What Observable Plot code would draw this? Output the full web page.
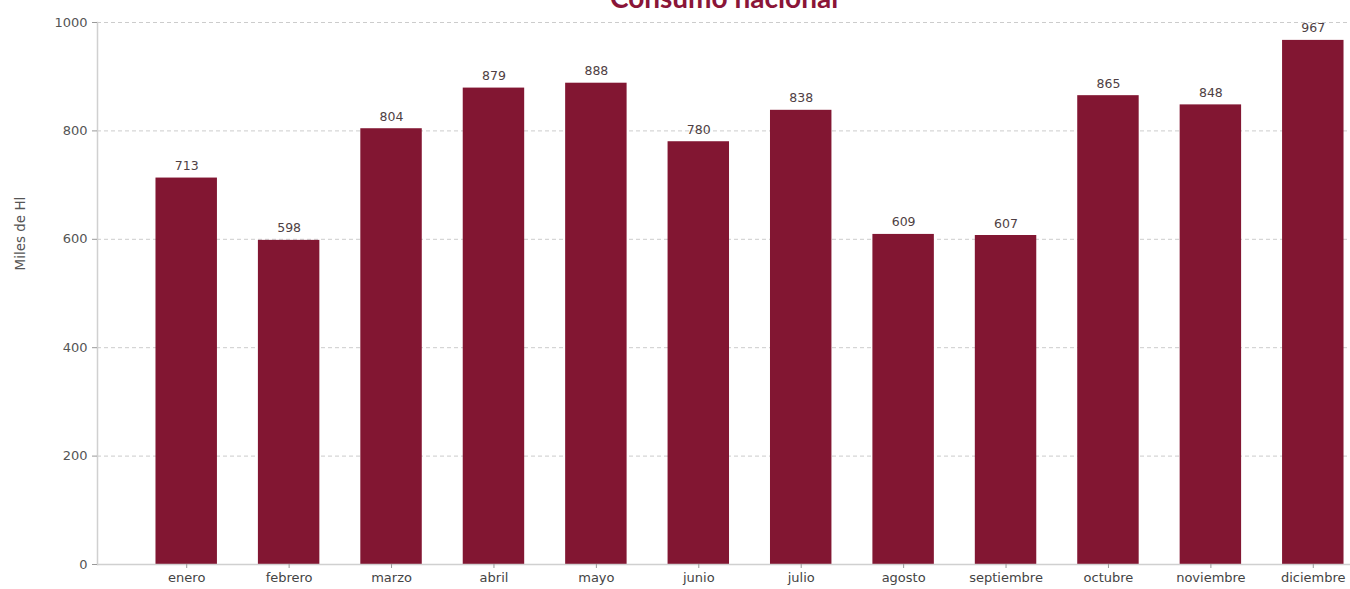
<!DOCTYPE html>
<html>
<head>
<meta charset="utf-8">
<script src="https://cdn.jsdelivr.net/npm/d3@7"></script>
<script src="https://cdn.jsdelivr.net/npm/@observablehq/plot@0.6"></script>
<style>
  html, body { margin: 0; padding: 0; background: #fff; overflow: hidden; }
  #chart svg { display: block; }
</style>
</head>
<body>
<div id="chart"></div>
<script>
const title = "Consumo nacional";
const yLabel = "Miles de Hl";
const months = ["enero", "febrero", "marzo", "abril", "mayo", "junio", "julio", "agosto", "septiembre", "octubre", "noviembre", "diciembre"];
const values = [713, 598, 804, 879, 888, 780, 838, 609, 607, 865, 848, 967];
const yTicks = [0, 200, 400, 600, 800, 1000];

const data = months.map((m, i) => ({month: m, value: values[i]}));
const barColor = "#821632";
const font = "'DejaVu Sans', sans-serif";

const chart = Plot.plot({
  width: 1350,
  height: 589,
  marginLeft: 97,
  marginRight: 0,
  marginTop: 22,
  marginBottom: 25,
  style: {fontFamily: font, fontSize: "13px", color: "#555", background: "#fff", overflow: "visible"},
  x: {domain: months, range: [135, 1364], round: false, paddingInner: 0.4, paddingOuter: 0.2, label: null},
  y: {domain: [0, 1000], label: null},
  marks: [
    Plot.gridY(yTicks, {stroke: "#ccc", strokeOpacity: 1, strokeDasharray: "4,3"}),
    Plot.barY(data, {x: "month", y: "value", fill: barColor}),
    Plot.ruleY([0], {stroke: "#d0d0d0", strokeWidth: 1.5}),
    Plot.frame({anchor: "left", stroke: "#d0d0d0", strokeWidth: 1.5}),
    Plot.axisY(yTicks, {tickSize: 5, tickPadding: 5, tickFormat: d => String(d), stroke: "#999", fill: "#555", fontSize: 13, label: null}),
    Plot.axisX({tickSize: 4, tickPadding: 4, stroke: "#999", fill: "#444", fontSize: 13, label: null}),
    Plot.text(data, {x: "month", y: "value", text: d => String(d.value), dy: -12, fill: "#4f3f44", fontSize: 12.5}),
    Plot.text([yLabel], {frameAnchor: "left", dx: -77, dy: -23, rotate: -90, fill: "#555", fontSize: 13.5}),
    Plot.text([title], {frameAnchor: "top", dy: -15, lineAnchor: "bottom", fill: "#8a1538", fontSize: 28, fontWeight: "bold", fontFamily: "Lato, sans-serif"})
  ]
});
document.getElementById("chart").appendChild(chart);
</script>
</body>
</html>
